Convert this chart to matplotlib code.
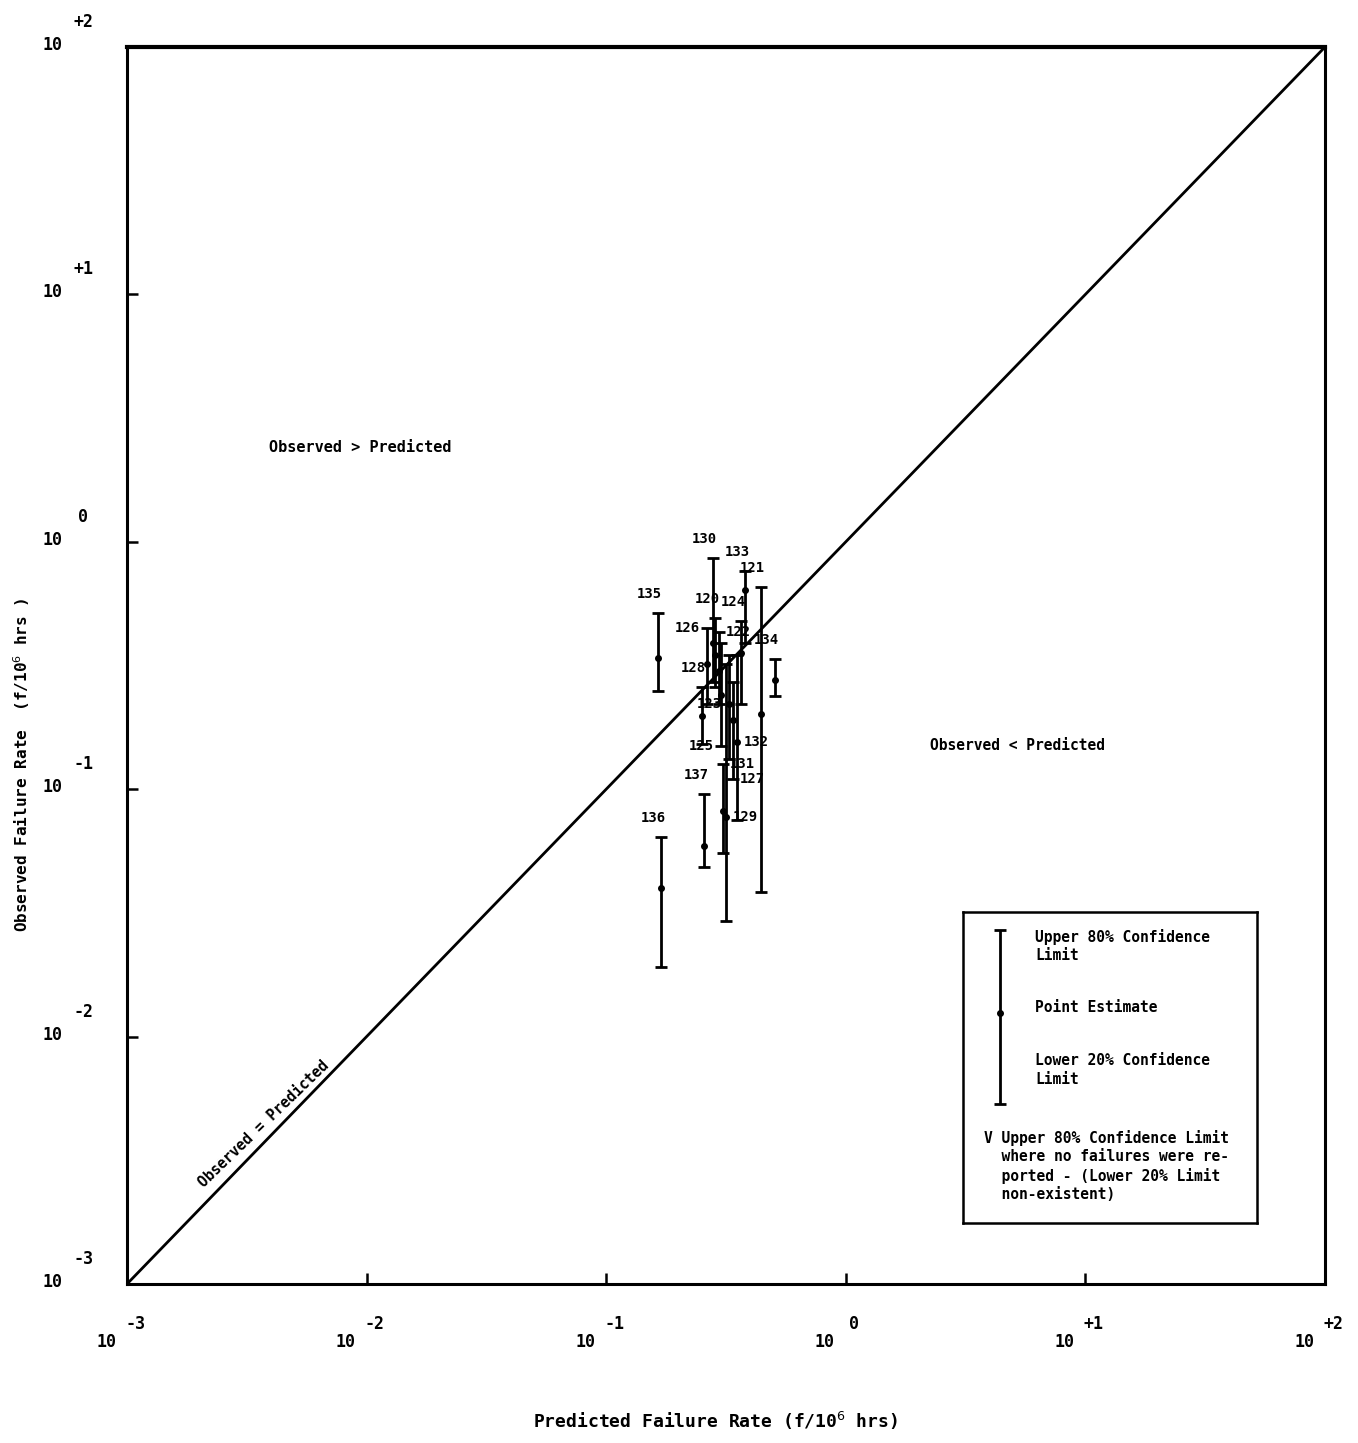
import matplotlib.pyplot as plt

# Donnees (taux en f/10^6 h)
ids = [120, 121, 122, 123, 124, 125, 126, 127, 128, 129,
       130, 131, 132, 133, 134, 135, 136, 137]
predicted = [0.284, 0.441, 0.295, 0.324, 0.365, 0.301, 0.264, 0.339, 0.250, 0.315,
             0.278, 0.306, 0.352, 0.381, 0.505, 0.164, 0.170, 0.257]
upper = [0.49, 0.658, 0.43, 0.35, 0.48, 0.39, 0.45, 0.27, 0.26, 0.32,
         0.863, 0.126, 0.35, 0.763, 0.336, 0.516, 0.0638, 0.0953]
point = [0.35, 0.201, 0.30, 0.22, 0.355, 0.24, 0.32, 0.19, 0.198, 0.077,
         0.39, 0.082, 0.155, 0.64, 0.276, 0.339, 0.040, 0.059]
lower = [0.26, 0.0385, 0.22, 0.133, 0.22, 0.15, 0.22, 0.11, 0.152, 0.0294,
         0.27, 0.055, 0.075, 0.39, 0.238, 0.249, 0.0191, 0.0486]

xt_exp = ['-3', '-2', '-1', '0', '+1', '+2']
yt_exp = ['-3', '-2', '-1', '0', '+1', '+2']

# ou poser le numero quand les barres se chevauchent (ancre, cote)
label_place = {122: ('u', 'right'), 123: ('p', 'left'), 125: ('l', 'left'),
               126: ('u', 'left'), 127: ('l', 'right'), 129: ('p', 'right'),
               131: ('u', 'right'), 132: ('p', 'right')}

W, H = 1358, 1443
fig = plt.figure(figsize=(W / 100, H / 100), dpi=100)
ax = fig.add_axes([127 / W, 1 - 1284 / H, (1325 - 127) / W, (1284 - 47) / H])
ax.set_xscale('log')
ax.set_yscale('log')
ax.set_xlim(1e-3, 1e2)
ax.set_ylim(1e-3, 1e2)
for s in ax.spines.values():
    s.set_linewidth(2.2)
ax.spines['top'].set_linewidth(3)

ax.tick_params(which='both', direction='in', length=8, width=1.8,
               labelbottom=False, labelleft=False)
ax.tick_params(which='minor', length=0)
ax.set_xticks([10.0 ** e for e in range(-3, 3)])
ax.set_yticks([10.0 ** e for e in range(-3, 3)])

font = dict(family='DejaVu Sans Mono', weight='bold', color='black')

# diagonale observe = predit
ax.plot([1e-3, 1e2], [1e-3, 1e2], color='black', lw=2)

# barres d'erreur
for i in range(len(ids)):
    ax.errorbar([predicted[i]], [point[i]],
                yerr=[[point[i] - lower[i]], [upper[i] - point[i]]],
                fmt='o', color='black', ms=4, lw=2, capsize=4.5, capthick=2)
    if ids[i] in label_place:
        anchor, side = label_place[ids[i]]
        yv = {'u': upper[i], 'p': point[i], 'l': lower[i]}[anchor]
        dx = 7 if side == 'right' else -7
        ax.annotate(str(ids[i]), (predicted[i], yv), textcoords='offset pixels',
                    xytext=(dx, 0), ha=side == 'right' and 'left' or 'right',
                    va='center', fontsize=10, **font)
    else:
        ax.annotate(str(ids[i]), (predicted[i], upper[i]), textcoords='offset pixels',
                    xytext=(-8, 12), ha='center', va='bottom', fontsize=10, **font)

# etiquettes des axes facon machine a ecrire
trans = ax.get_xaxis_transform()
for k, e in enumerate(xt_exp):
    x = 10.0 ** (k - 3)
    ax.annotate('10', (x, 0), xycoords=trans, textcoords='offset pixels',
                xytext=(-21, -58), ha='center', va='center', fontsize=12,
                annotation_clip=False, **font)
    ax.annotate(e, (x, 0), xycoords=trans, textcoords='offset pixels',
                xytext=(8, -40), ha='center', va='center', fontsize=12,
                annotation_clip=False, **font)
transy = ax.get_yaxis_transform()
for k, e in enumerate(yt_exp):
    y = 10.0 ** (k - 3)
    ax.annotate('10', (0, y), xycoords=transy, textcoords='offset pixels',
                xytext=(-75, 2), ha='center', va='center', fontsize=12,
                annotation_clip=False, **font)
    ax.annotate(e, (0, y), xycoords=transy, textcoords='offset pixels',
                xytext=(-44, 25), ha='center', va='center', fontsize=12,
                annotation_clip=False, **font)

fig.text(715 / W, 1 - 1421 / H, 'Predicted Failure Rate (f/10$^6$ hrs)',
         ha='center', va='center', fontsize=13, **font)
fig.text(22 / W, 1 - 765 / H, 'Observed Failure Rate  (f/10$^6$ hrs )',
         ha='center', va='center', rotation=90, fontsize=11.5, **font)

fig.text(360 / W, 1 - 447 / H, 'Observed > Predicted', ha='center', va='center',
         fontsize=11, **font)
fig.text(1017 / W, 1 - 745 / H, 'Observed < Predicted', ha='center', va='center',
         fontsize=10.5, **font)
fig.text(264 / W, 1 - 1124 / H, 'Observed = Predicted', ha='center', va='center',
         rotation=44, fontsize=10.5, **font)

# cartouche de legende
lax = fig.add_axes([963 / W, 1 - 1223 / H, (1257 - 963) / W, (1223 - 912) / H])
lax.set_xlim(963, 1257)
lax.set_ylim(1223, 912)
lax.set_xticks([])
lax.set_yticks([])
for s in lax.spines.values():
    s.set_linewidth(1.8)
lax.errorbar([1000], [1013], yerr=[[1096 - 1013], [1013 - 922]], fmt='o',
             color='black', ms=4, lw=2, capsize=4.5, capthick=2)
lax.text(1035, 946, 'Upper 80% Confidence\nLimit', ha='left', va='center',
         fontsize=10.5, linespacing=1.3, **font)
lax.text(1035, 1007, 'Point Estimate', ha='left', va='center', fontsize=10.5, **font)
lax.text(1035, 1070, 'Lower 20% Confidence\nLimit', ha='left', va='center',
         fontsize=10.5, linespacing=1.3, **font)
lax.text(984, 1166, 'V Upper 80% Confidence Limit\n  where no failures were re-\n'
         '  ported - (Lower 20% Limit\n  non-existent)', ha='left', va='center',
         fontsize=10.5, linespacing=1.25, **font)

fig.savefig('out.png', dpi=100)
